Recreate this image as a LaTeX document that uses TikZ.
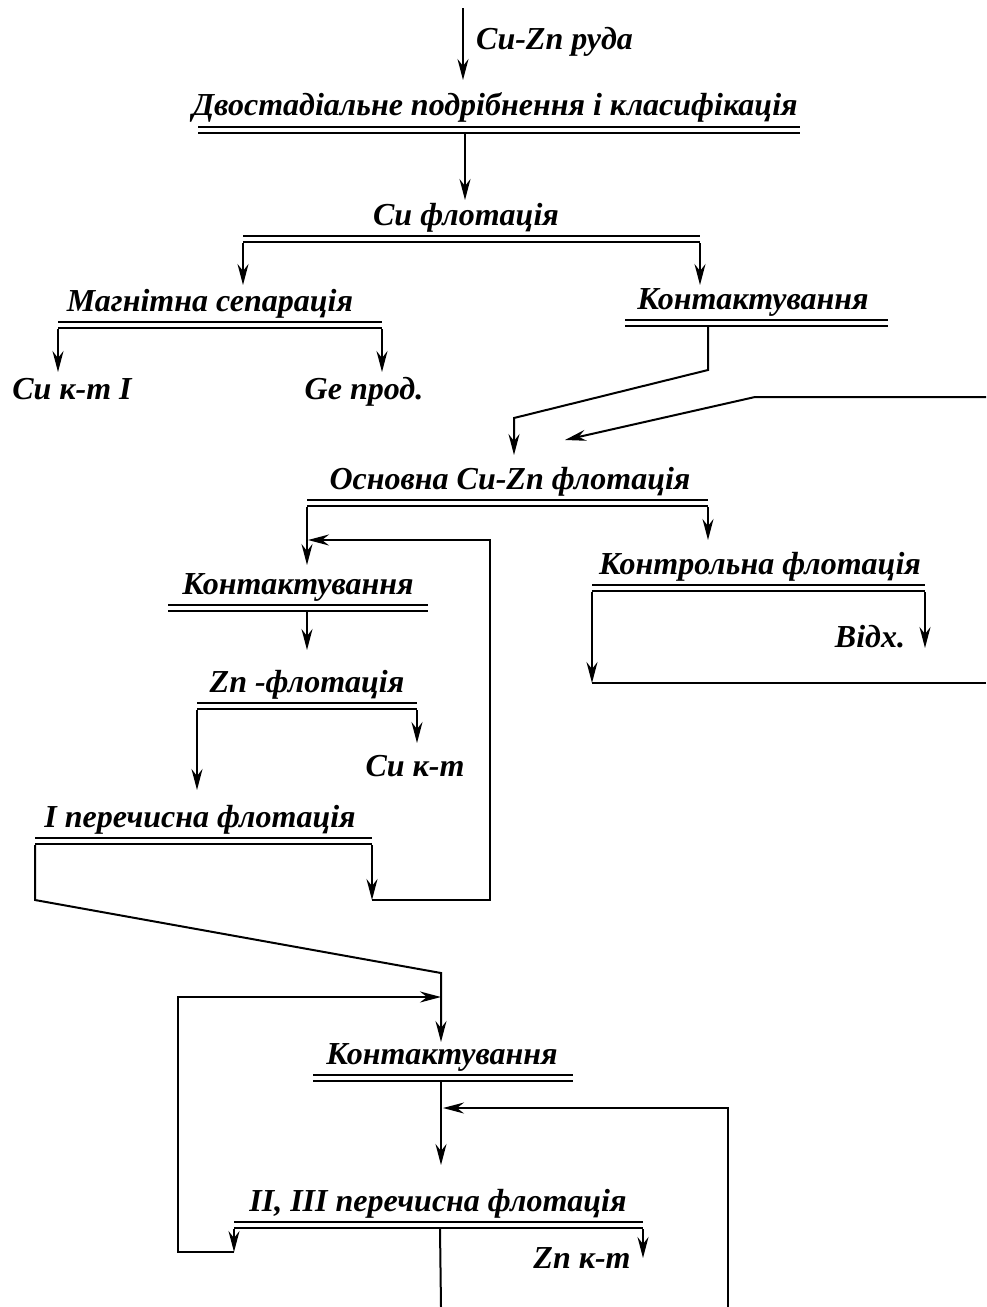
\documentclass[tikz,border=0pt]{standalone}
\usepackage{fontspec}
\setmainfont{Liberation Serif}
\usetikzlibrary{arrows.meta}

\begin{document}
\begin{tikzpicture}[
  x=1pt, y=-1pt,
  stage/.style={font=\bfseries\itshape\fontsize{32}{36}\selectfont, inner sep=0pt, anchor=base},
  prod/.style={font=\bfseries\itshape\fontsize{32}{36}\selectfont, inner sep=0pt, anchor=base},
  bar/.style={double, line width=2pt, double distance=4pt},
  flow/.style={-{Stealth[length=21pt, width=11pt, inset=7pt]}, line width=2pt},
  pipe/.style={line width=2pt}
]
\useasboundingbox (0,0) rectangle (986,1307);

% Stages
\node[prod, anchor=base west] (ore) at (476,49) {Cu-Zn руда};
\node[stage] (grind) at (495,115) {Двостадіальне подрібнення і класифікація};
\node[stage] (cufl)  at (466,225) {Cu флотація};
\node[stage] (magn)  at (210,311) {Магнітна сепарація};
\node[prod]  (cuk1)  at (72,399)  {Cu к-т I};
\node[prod]  (ge)    at (364,399) {Ge прод.};
\node[stage] (cont1) at (753,309) {Контактування};
\node[stage] (osn)   at (510,489) {Основна Cu-Zn флотація};
\node[stage] (ctrl)  at (760,574) {Контрольна флотація};
\node[prod]  (vidh)  at (870,647) {Відх.};
\node[stage] (cont2) at (298,594) {Контактування};
\node[stage] (znfl)  at (307,692) {Zn -флотація};
\node[prod]  (cuk2)  at (415,776) {Cu к-т};
\node[stage] (per1)  at (200,827) {I перечисна флотація};
\node[stage] (cont3) at (442,1064) {Контактування};
\node[stage] (per23) at (438,1211) {II, III перечисна флотація};
\node[prod]  (znk)   at (582,1268) {Zn к-т};

% Bars under stages
\draw[bar] (198,130) -- (800,130);
\draw[bar] (243,239) -- (700,239);
\draw[bar] (58,325) -- (382,325);
\draw[bar] (625,323) -- (888,323);
\draw[bar] (307,503) -- (708,503);
\draw[bar] (592,588) -- (925,588);
\draw[bar] (168,608) -- (428,608);
\draw[bar] (197,706) -- (417,706);
\draw[bar] (35,841) -- (372,841);
\draw[bar] (313,1078) -- (573,1078);
\draw[bar] (234,1225) -- (643,1225);

% Flows
\coordinate (feed) at (463,8);
\draw[flow] (feed) -- (463,80);
\draw[flow] (465,134) -- (465,200);
\draw[flow] (243,243) -- (243,285);
\draw[flow] (700,243) -- (700,285);
\draw[flow] (58,329) -- (58,372);
\draw[flow] (382,329) -- (382,372);
\draw[flow] (708,327) -- (708,370) -- (514,418) -- (514,455);
\coordinate (ret1) at (986,397);
\draw[flow] (ret1) -- (755,397) -- (565,440);
\draw[flow] (708,507) -- (708,540);
\draw[flow] (925,592) -- (925,648);
\draw[flow] (592,592) -- (592,683);
\draw[pipe] (592,683) -- (986,683);
\draw[flow] (307,507) -- (307,565);
\draw[flow] (372,845) -- (372,900);
\draw[flow] (372,900) -- (490,900) -- (490,540) -- (308,540);
\draw[flow] (307,612) -- (307,650);
\draw[flow] (417,710) -- (417,743);
\draw[flow] (197,710) -- (197,790);
\draw[flow] (35,845) -- (35,900) -- (441,973) -- (441,1042);
\draw[flow] (234,1229) -- (234,1252);
\draw[flow] (234,1252) -- (178,1252) -- (178,997) -- (441,997);
\draw[flow] (441,1082) -- (441,1165);
\draw[flow] (728,1307) -- (728,1108) -- (443,1108);
\draw[flow] (643,1229) -- (643,1258);
\draw[pipe] (440,1229) -- (441,1307);

\end{tikzpicture}
\end{document}
